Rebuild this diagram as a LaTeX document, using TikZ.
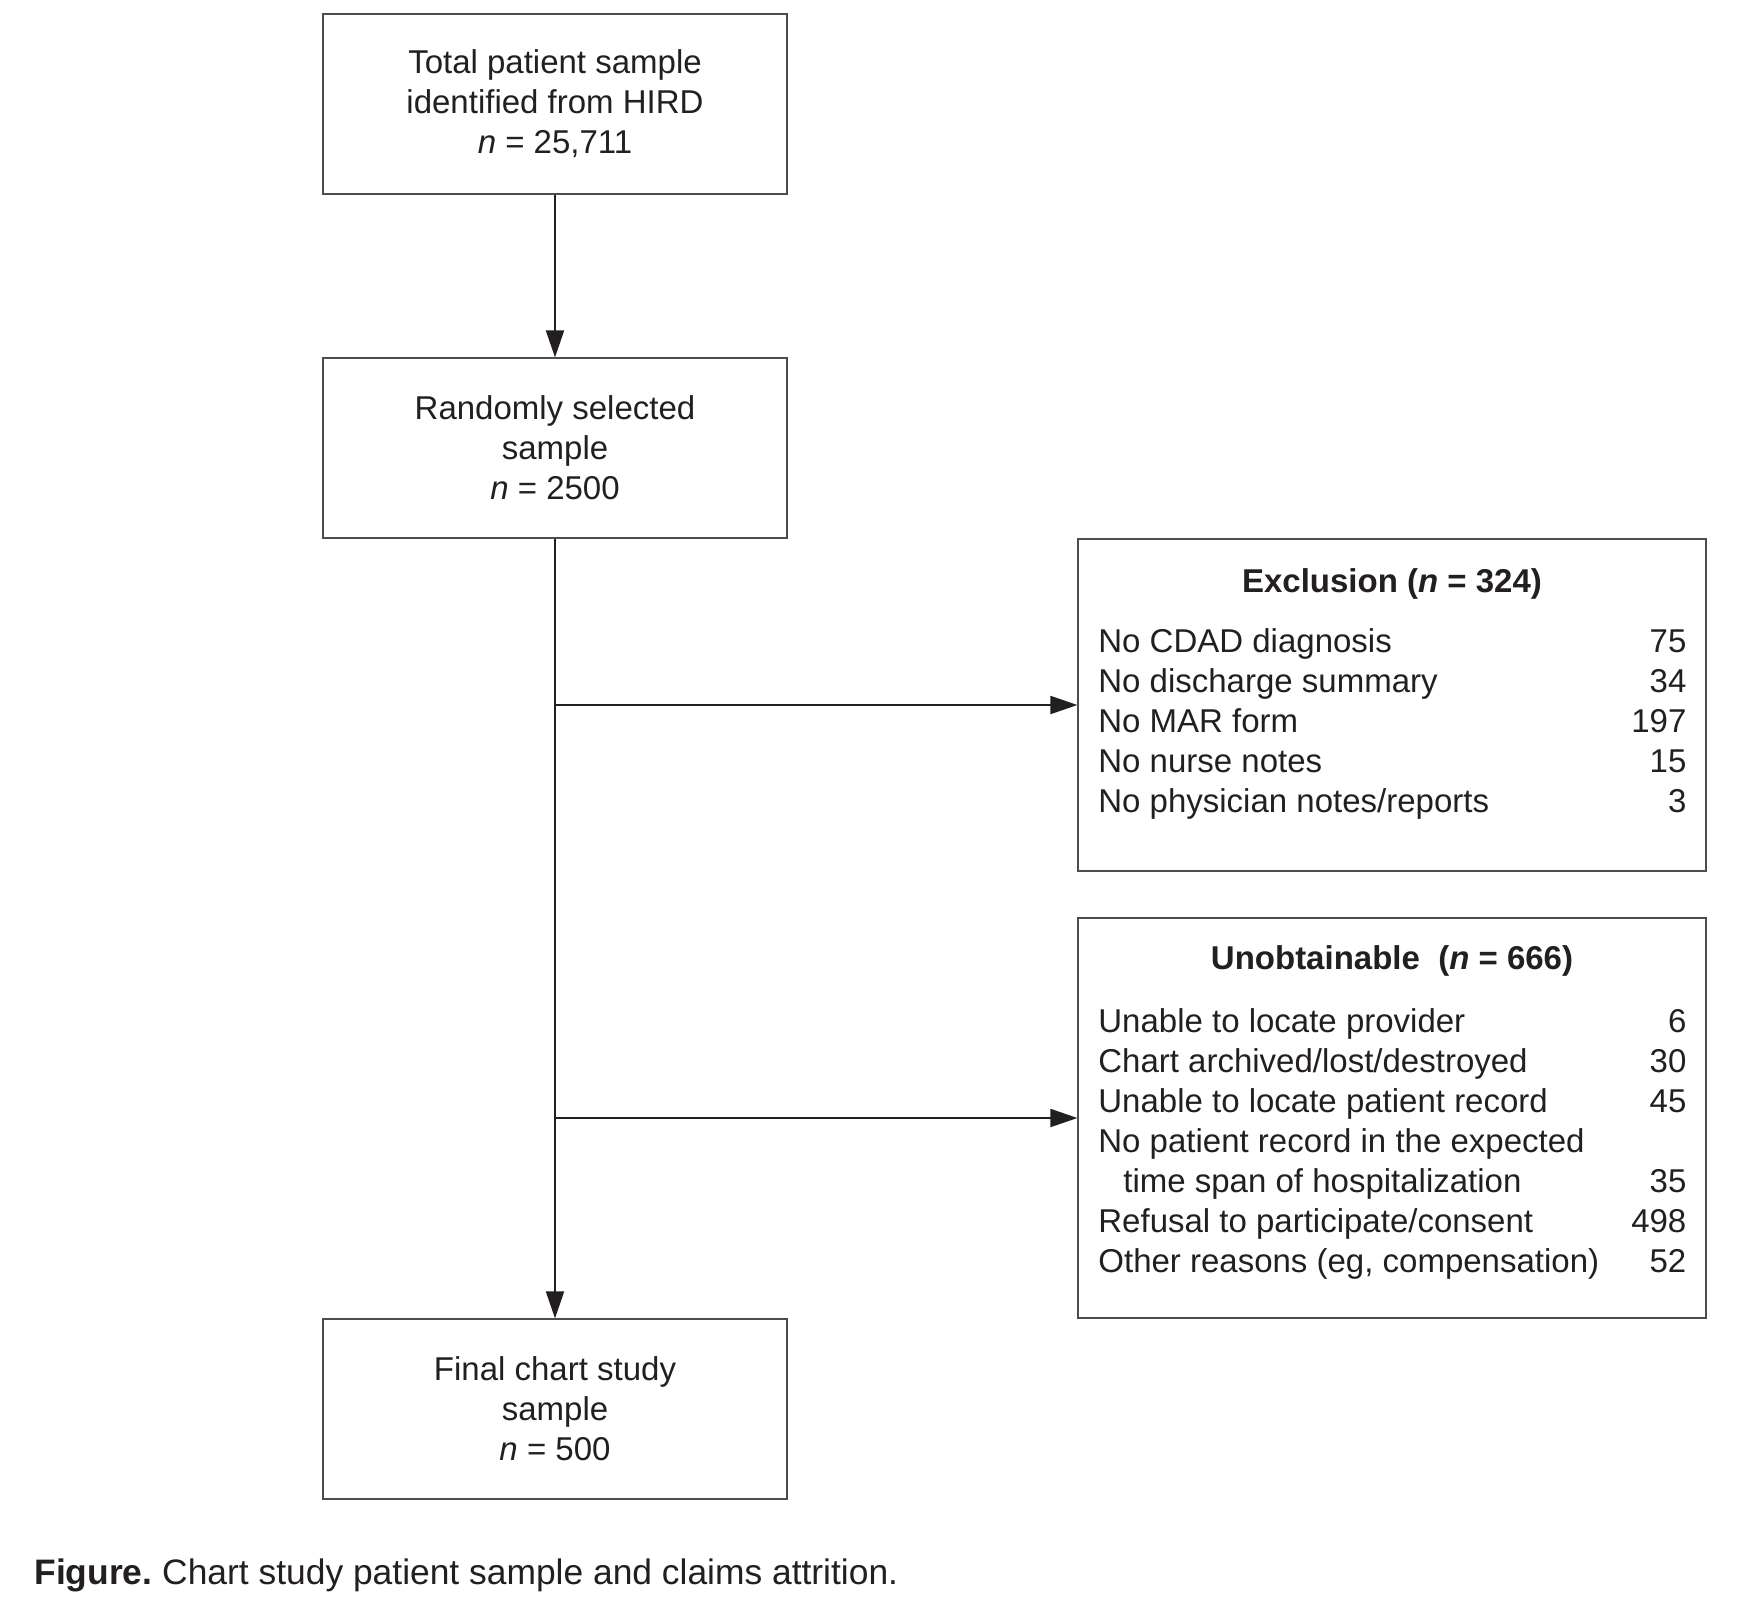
\documentclass[tikz,border=0pt]{standalone}
\usepackage{fontspec}
\setmainfont{Liberation Sans}
\usetikzlibrary{arrows.meta}
\definecolor{ink}{HTML}{231F20}
\begin{document}
\begin{tikzpicture}[x=0.5pt,y=-0.5pt,
  every node/.style={text=ink, font=\fontsize{16.5}{20}\selectfont},
  box/.style={draw=ink!80, line width=0.6pt, inner sep=0pt, align=center},
  smallbox/.style={box, minimum width=232pt, minimum height=90pt},
  listbox/.style={box, minimum width=314pt},
  conn/.style={draw=ink, line width=1pt, -{Triangle[length=13.5pt,width=9pt]}},
  plain/.style={inner sep=0pt},
]
\useasboundingbox (0,0) rectangle (1751,1600);

\node[smallbox] (b1) at (555,104) {Total patient sample\\identified from HIRD\\\textit{n} = 25,711};
\node[smallbox] (b2) at (555,448) {Randomly selected\\sample\\\textit{n} = 2500};
\node[smallbox] (b3) at (555,1409) {Final chart study\\sample\\\textit{n} = 500};

\node[listbox, minimum height=166pt] (exc) at (1392,705) {};
\node[listbox, minimum height=200pt] (unob) at (1392,1118) {};

\node[plain, anchor=base] (exctitle) at (1392,592) {\textbf{Exclusion (\textit{n} = 324)}};
\node[plain, anchor=base west] (exclist) at (1098,652) {%
\begin{tabular}[t]{@{}l@{}}
\makebox[294pt][l]{No CDAD diagnosis\hfill 75}\\
\makebox[294pt][l]{No discharge summary\hfill 34}\\
\makebox[294pt][l]{No MAR form\hfill 197}\\
\makebox[294pt][l]{No nurse notes\hfill 15}\\
\makebox[294pt][l]{No physician notes/reports\hfill 3}
\end{tabular}};

\node[plain, anchor=base] (unobtitle) at (1392,969) {\textbf{Unobtainable\ \ (\textit{n} = 666)}};
\node[plain, anchor=base west] (unoblist) at (1098,1032) {%
\begin{tabular}[t]{@{}l@{}}
\makebox[294pt][l]{Unable to locate provider\hfill 6}\\
\makebox[294pt][l]{Chart archived/lost/destroyed\hfill 30}\\
\makebox[294pt][l]{Unable to locate patient record\hfill 45}\\
\makebox[294pt][l]{No patient record in the expected\hfill}\\
\makebox[294pt][l]{\hspace{12.5pt}time span of hospitalization\hfill 35}\\
\makebox[294pt][l]{Refusal to participate/consent\hfill 498}\\
\makebox[294pt][l]{Other reasons (eg, compensation)\hfill 52}
\end{tabular}};

\coordinate (j1) at (555,705);
\coordinate (j2) at (555,1118);

\draw[conn] (b1.south) -- (b2.north);
\draw[conn] (b2.south) -- (b3.north);
\draw[conn] (j1) -- (exc.west);
\draw[conn] (j2) -- (unob.west);

\node[plain, anchor=base west, font=\fontsize{17.7}{21}\selectfont] (cap) at (34,1584) {\textbf{Figure.}\ Chart study patient sample and claims attrition.};
\end{tikzpicture}
\end{document}
